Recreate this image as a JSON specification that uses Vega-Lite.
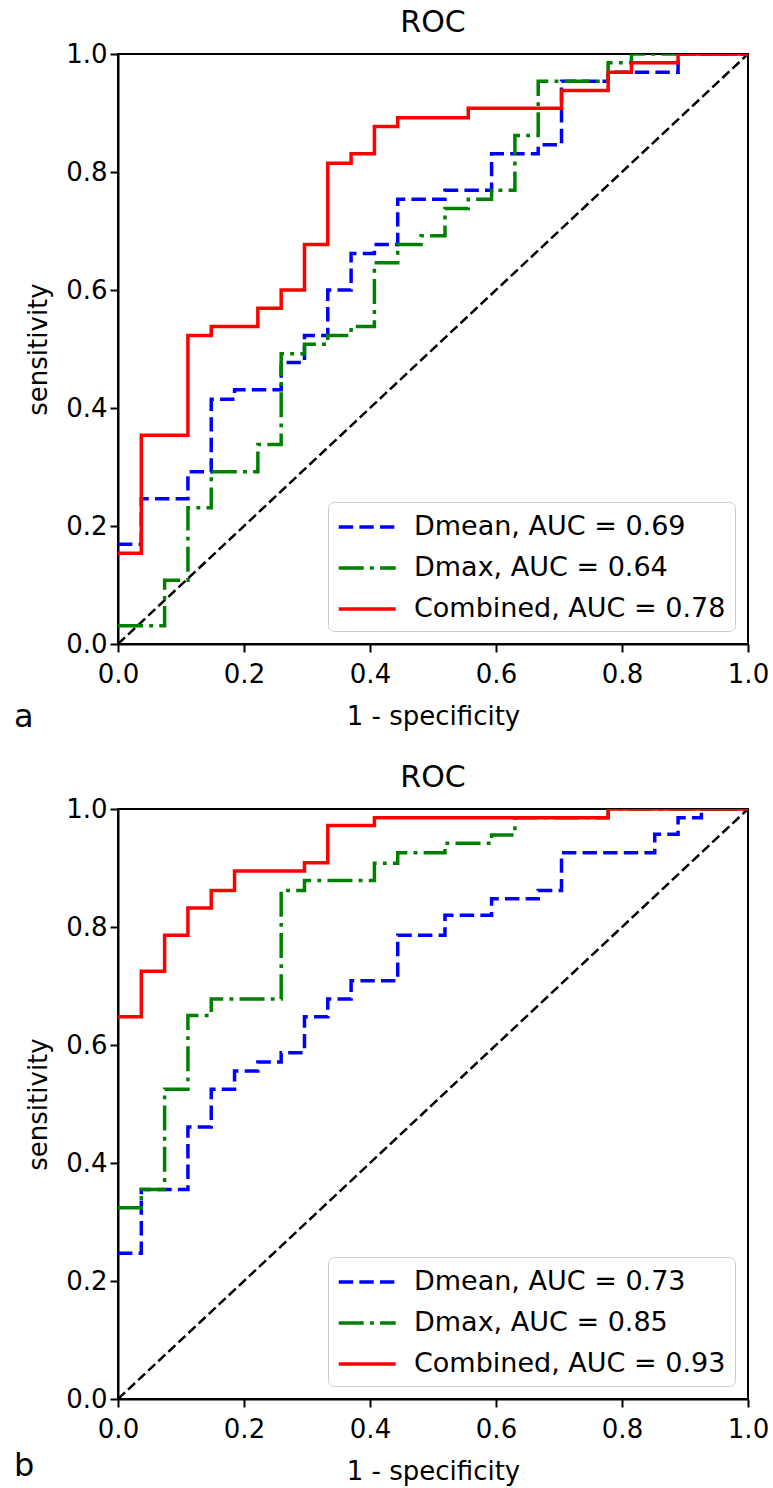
{
  "$schema": "https://vega.github.io/schema/vega-lite/v6.json",
  "background": "white",
  "padding": {"left": 13, "top": 7, "right": 10, "bottom": 5},
  "datasets": {
    "diag": [{"fpr": 0, "tpr": 0}, {"fpr": 1, "tpr": 1}],
    "rocA": [
      {"series": "Dmean, AUC = 0.69", "i": 1, "fpr": 0, "tpr": 0.169},
      {"series": "Dmean, AUC = 0.69", "i": 2, "fpr": 0.037, "tpr": 0.246},
      {"series": "Dmean, AUC = 0.69", "i": 3, "fpr": 0.111, "tpr": 0.292},
      {"series": "Dmean, AUC = 0.69", "i": 4, "fpr": 0.148, "tpr": 0.415},
      {"series": "Dmean, AUC = 0.69", "i": 5, "fpr": 0.185, "tpr": 0.431},
      {"series": "Dmean, AUC = 0.69", "i": 6, "fpr": 0.259, "tpr": 0.477},
      {"series": "Dmean, AUC = 0.69", "i": 7, "fpr": 0.296, "tpr": 0.523},
      {"series": "Dmean, AUC = 0.69", "i": 8, "fpr": 0.333, "tpr": 0.6},
      {"series": "Dmean, AUC = 0.69", "i": 9, "fpr": 0.37, "tpr": 0.662},
      {"series": "Dmean, AUC = 0.69", "i": 10, "fpr": 0.407, "tpr": 0.677},
      {"series": "Dmean, AUC = 0.69", "i": 11, "fpr": 0.444, "tpr": 0.754},
      {"series": "Dmean, AUC = 0.69", "i": 12, "fpr": 0.519, "tpr": 0.769},
      {"series": "Dmean, AUC = 0.69", "i": 13, "fpr": 0.593, "tpr": 0.831},
      {"series": "Dmean, AUC = 0.69", "i": 14, "fpr": 0.667, "tpr": 0.846},
      {"series": "Dmean, AUC = 0.69", "i": 15, "fpr": 0.704, "tpr": 0.954},
      {"series": "Dmean, AUC = 0.69", "i": 16, "fpr": 0.778, "tpr": 0.969},
      {"series": "Dmean, AUC = 0.69", "i": 17, "fpr": 0.889, "tpr": 1.0},
      {"series": "Dmean, AUC = 0.69", "i": 18, "fpr": 1.0, "tpr": 1.0},
      {"series": "Dmax, AUC = 0.64", "i": 1, "fpr": 0, "tpr": 0.031},
      {"series": "Dmax, AUC = 0.64", "i": 2, "fpr": 0.074, "tpr": 0.108},
      {"series": "Dmax, AUC = 0.64", "i": 3, "fpr": 0.111, "tpr": 0.231},
      {"series": "Dmax, AUC = 0.64", "i": 4, "fpr": 0.148, "tpr": 0.292},
      {"series": "Dmax, AUC = 0.64", "i": 5, "fpr": 0.222, "tpr": 0.338},
      {"series": "Dmax, AUC = 0.64", "i": 6, "fpr": 0.259, "tpr": 0.492},
      {"series": "Dmax, AUC = 0.64", "i": 7, "fpr": 0.296, "tpr": 0.508},
      {"series": "Dmax, AUC = 0.64", "i": 8, "fpr": 0.333, "tpr": 0.523},
      {"series": "Dmax, AUC = 0.64", "i": 9, "fpr": 0.37, "tpr": 0.538},
      {"series": "Dmax, AUC = 0.64", "i": 10, "fpr": 0.407, "tpr": 0.646},
      {"series": "Dmax, AUC = 0.64", "i": 11, "fpr": 0.444, "tpr": 0.677},
      {"series": "Dmax, AUC = 0.64", "i": 12, "fpr": 0.481, "tpr": 0.692},
      {"series": "Dmax, AUC = 0.64", "i": 13, "fpr": 0.519, "tpr": 0.738},
      {"series": "Dmax, AUC = 0.64", "i": 14, "fpr": 0.556, "tpr": 0.754},
      {"series": "Dmax, AUC = 0.64", "i": 15, "fpr": 0.593, "tpr": 0.769},
      {"series": "Dmax, AUC = 0.64", "i": 16, "fpr": 0.63, "tpr": 0.862},
      {"series": "Dmax, AUC = 0.64", "i": 17, "fpr": 0.667, "tpr": 0.954},
      {"series": "Dmax, AUC = 0.64", "i": 18, "fpr": 0.778, "tpr": 0.985},
      {"series": "Dmax, AUC = 0.64", "i": 19, "fpr": 0.815, "tpr": 1.0},
      {"series": "Dmax, AUC = 0.64", "i": 20, "fpr": 1.0, "tpr": 1.0},
      {"series": "Combined, AUC = 0.78", "i": 1, "fpr": 0, "tpr": 0.154},
      {"series": "Combined, AUC = 0.78", "i": 2, "fpr": 0.037, "tpr": 0.354},
      {"series": "Combined, AUC = 0.78", "i": 3, "fpr": 0.111, "tpr": 0.523},
      {"series": "Combined, AUC = 0.78", "i": 4, "fpr": 0.148, "tpr": 0.538},
      {"series": "Combined, AUC = 0.78", "i": 5, "fpr": 0.222, "tpr": 0.569},
      {"series": "Combined, AUC = 0.78", "i": 6, "fpr": 0.259, "tpr": 0.6},
      {"series": "Combined, AUC = 0.78", "i": 7, "fpr": 0.296, "tpr": 0.677},
      {"series": "Combined, AUC = 0.78", "i": 8, "fpr": 0.333, "tpr": 0.815},
      {"series": "Combined, AUC = 0.78", "i": 9, "fpr": 0.37, "tpr": 0.831},
      {"series": "Combined, AUC = 0.78", "i": 10, "fpr": 0.407, "tpr": 0.877},
      {"series": "Combined, AUC = 0.78", "i": 11, "fpr": 0.444, "tpr": 0.892},
      {"series": "Combined, AUC = 0.78", "i": 12, "fpr": 0.556, "tpr": 0.908},
      {"series": "Combined, AUC = 0.78", "i": 13, "fpr": 0.704, "tpr": 0.938},
      {"series": "Combined, AUC = 0.78", "i": 14, "fpr": 0.778, "tpr": 0.969},
      {"series": "Combined, AUC = 0.78", "i": 15, "fpr": 0.815, "tpr": 0.985},
      {"series": "Combined, AUC = 0.78", "i": 16, "fpr": 0.889, "tpr": 1.0},
      {"series": "Combined, AUC = 0.78", "i": 17, "fpr": 1.0, "tpr": 1.0}
    ],
    "rocB": [
      {"series": "Dmean, AUC = 0.73", "i": 1, "fpr": 0, "tpr": 0.247},
      {"series": "Dmean, AUC = 0.73", "i": 2, "fpr": 0.037, "tpr": 0.355},
      {"series": "Dmean, AUC = 0.73", "i": 3, "fpr": 0.111, "tpr": 0.461},
      {"series": "Dmean, AUC = 0.73", "i": 4, "fpr": 0.148, "tpr": 0.525},
      {"series": "Dmean, AUC = 0.73", "i": 5, "fpr": 0.185, "tpr": 0.556},
      {"series": "Dmean, AUC = 0.73", "i": 6, "fpr": 0.222, "tpr": 0.571},
      {"series": "Dmean, AUC = 0.73", "i": 7, "fpr": 0.259, "tpr": 0.587},
      {"series": "Dmean, AUC = 0.73", "i": 8, "fpr": 0.296, "tpr": 0.648},
      {"series": "Dmean, AUC = 0.73", "i": 9, "fpr": 0.333, "tpr": 0.678},
      {"series": "Dmean, AUC = 0.73", "i": 10, "fpr": 0.37, "tpr": 0.709},
      {"series": "Dmean, AUC = 0.73", "i": 11, "fpr": 0.444, "tpr": 0.786},
      {"series": "Dmean, AUC = 0.73", "i": 12, "fpr": 0.519, "tpr": 0.82},
      {"series": "Dmean, AUC = 0.73", "i": 13, "fpr": 0.593, "tpr": 0.848},
      {"series": "Dmean, AUC = 0.73", "i": 14, "fpr": 0.667, "tpr": 0.862},
      {"series": "Dmean, AUC = 0.73", "i": 15, "fpr": 0.704, "tpr": 0.926},
      {"series": "Dmean, AUC = 0.73", "i": 16, "fpr": 0.852, "tpr": 0.957},
      {"series": "Dmean, AUC = 0.73", "i": 17, "fpr": 0.889, "tpr": 0.985},
      {"series": "Dmean, AUC = 0.73", "i": 18, "fpr": 0.926, "tpr": 1.0},
      {"series": "Dmean, AUC = 0.73", "i": 19, "fpr": 1.0, "tpr": 1.0},
      {"series": "Dmax, AUC = 0.85", "i": 1, "fpr": 0, "tpr": 0.324},
      {"series": "Dmax, AUC = 0.85", "i": 2, "fpr": 0.037, "tpr": 0.355},
      {"series": "Dmax, AUC = 0.85", "i": 3, "fpr": 0.074, "tpr": 0.525},
      {"series": "Dmax, AUC = 0.85", "i": 4, "fpr": 0.111, "tpr": 0.65},
      {"series": "Dmax, AUC = 0.85", "i": 5, "fpr": 0.148, "tpr": 0.678},
      {"series": "Dmax, AUC = 0.85", "i": 6, "fpr": 0.259, "tpr": 0.862},
      {"series": "Dmax, AUC = 0.85", "i": 7, "fpr": 0.296, "tpr": 0.879},
      {"series": "Dmax, AUC = 0.85", "i": 8, "fpr": 0.407, "tpr": 0.908},
      {"series": "Dmax, AUC = 0.85", "i": 9, "fpr": 0.444, "tpr": 0.926},
      {"series": "Dmax, AUC = 0.85", "i": 10, "fpr": 0.519, "tpr": 0.942},
      {"series": "Dmax, AUC = 0.85", "i": 11, "fpr": 0.593, "tpr": 0.956},
      {"series": "Dmax, AUC = 0.85", "i": 12, "fpr": 0.63, "tpr": 0.985},
      {"series": "Dmax, AUC = 0.85", "i": 13, "fpr": 0.778, "tpr": 1.0},
      {"series": "Dmax, AUC = 0.85", "i": 14, "fpr": 1.0, "tpr": 1.0},
      {"series": "Combined, AUC = 0.93", "i": 1, "fpr": 0, "tpr": 0.648},
      {"series": "Combined, AUC = 0.93", "i": 2, "fpr": 0.037, "tpr": 0.725},
      {"series": "Combined, AUC = 0.93", "i": 3, "fpr": 0.074, "tpr": 0.786},
      {"series": "Combined, AUC = 0.93", "i": 4, "fpr": 0.111, "tpr": 0.832},
      {"series": "Combined, AUC = 0.93", "i": 5, "fpr": 0.148, "tpr": 0.862},
      {"series": "Combined, AUC = 0.93", "i": 6, "fpr": 0.185, "tpr": 0.895},
      {"series": "Combined, AUC = 0.93", "i": 7, "fpr": 0.296, "tpr": 0.909},
      {"series": "Combined, AUC = 0.93", "i": 8, "fpr": 0.333, "tpr": 0.972},
      {"series": "Combined, AUC = 0.93", "i": 9, "fpr": 0.407, "tpr": 0.985},
      {"series": "Combined, AUC = 0.93", "i": 10, "fpr": 0.778, "tpr": 1.0},
      {"series": "Combined, AUC = 0.93", "i": 11, "fpr": 1.0, "tpr": 1.0}
    ]
  },
  "spacing": 165,
  "bounds": "flush",
  "resolve": {"scale": {"color": "independent", "strokeDash": "independent"}},
  "vconcat": [
    {
      "width": 630,
      "height": 590,
      "title": "ROC",
      "layer": [
        {
          "data": {"name": "diag"},
          "mark": {"type": "line", "color": "black", "strokeWidth": 2.5, "strokeDash": [9.6, 4.2], "clip": false},
          "encoding": {
            "x": {"field": "fpr", "type": "quantitative", "scale": {"domain": [0, 1], "nice": false}, "axis": {"title": "1 - specificity", "values": [0, 0.2, 0.4, 0.6, 0.8, 1.0], "format": ".1f", "labelPadding": 9, "titlePadding": 16}},
            "y": {"field": "tpr", "type": "quantitative", "scale": {"domain": [0, 1], "nice": false}, "axis": {"title": "sensitivity", "values": [0, 0.2, 0.4, 0.6, 0.8, 1.0], "format": ".1f", "labelPadding": 3, "titlePadding": 14}}
          }
        },
        {
          "data": {"name": "rocA"},
          "mark": {"type": "line", "interpolate": "step-after", "strokeWidth": 3.5, "clip": true},
          "encoding": {
            "x": {"field": "fpr", "type": "quantitative", "scale": {"domain": [0, 1], "nice": false}, "axis": {"title": "1 - specificity", "values": [0, 0.2, 0.4, 0.6, 0.8, 1.0], "format": ".1f", "labelPadding": 9, "titlePadding": 16}},
            "y": {"field": "tpr", "type": "quantitative", "scale": {"domain": [0, 1], "nice": false}, "axis": {"title": "sensitivity", "values": [0, 0.2, 0.4, 0.6, 0.8, 1.0], "format": ".1f", "labelPadding": 3, "titlePadding": 14}},
            "order": {"field": "i", "type": "quantitative"},
            "color": {"field": "series", "type": "nominal", "sort": null,
              "scale": {"domain": ["Dmean, AUC = 0.69", "Dmax, AUC = 0.64", "Combined, AUC = 0.78"], "range": ["#0000ff", "#008000", "#ff0000"]},
              "legend": {"title": null}},
            "strokeDash": {"field": "series", "type": "nominal", "sort": null,
              "scale": {"domain": ["Dmean, AUC = 0.69", "Dmax, AUC = 0.64", "Combined, AUC = 0.78"], "range": [[14.4, 6.2], [25, 6.2, 3.9, 6.2], [1, 0]]},
              "legend": {"title": null}}
          }
        },
        {
          "data": {"values": [{"label": "a"}]},
          "mark": {"type": "text", "fontSize": 32, "align": "left", "baseline": "alphabetic", "color": "black", "font": "DejaVu Sans"},
          "encoding": {
            "x": {"datum": -0.165, "type": "quantitative"},
            "y": {"datum": -0.14, "type": "quantitative"},
            "text": {"field": "label"}
          }
        }
      ]
    },
    {
      "width": 630,
      "height": 590,
      "title": "ROC",
      "layer": [
        {
          "data": {"name": "diag"},
          "mark": {"type": "line", "color": "black", "strokeWidth": 2.5, "strokeDash": [9.6, 4.2], "clip": false},
          "encoding": {
            "x": {"field": "fpr", "type": "quantitative", "scale": {"domain": [0, 1], "nice": false}, "axis": {"title": "1 - specificity", "values": [0, 0.2, 0.4, 0.6, 0.8, 1.0], "format": ".1f", "labelPadding": 9, "titlePadding": 16}},
            "y": {"field": "tpr", "type": "quantitative", "scale": {"domain": [0, 1], "nice": false}, "axis": {"title": "sensitivity", "values": [0, 0.2, 0.4, 0.6, 0.8, 1.0], "format": ".1f", "labelPadding": 3, "titlePadding": 14}}
          }
        },
        {
          "data": {"name": "rocB"},
          "mark": {"type": "line", "interpolate": "step-after", "strokeWidth": 3.5, "clip": true},
          "encoding": {
            "x": {"field": "fpr", "type": "quantitative", "scale": {"domain": [0, 1], "nice": false}, "axis": {"title": "1 - specificity", "values": [0, 0.2, 0.4, 0.6, 0.8, 1.0], "format": ".1f", "labelPadding": 9, "titlePadding": 16}},
            "y": {"field": "tpr", "type": "quantitative", "scale": {"domain": [0, 1], "nice": false}, "axis": {"title": "sensitivity", "values": [0, 0.2, 0.4, 0.6, 0.8, 1.0], "format": ".1f", "labelPadding": 3, "titlePadding": 14}},
            "order": {"field": "i", "type": "quantitative"},
            "color": {"field": "series", "type": "nominal", "sort": null,
              "scale": {"domain": ["Dmean, AUC = 0.73", "Dmax, AUC = 0.85", "Combined, AUC = 0.93"], "range": ["#0000ff", "#008000", "#ff0000"]},
              "legend": {"title": null}},
            "strokeDash": {"field": "series", "type": "nominal", "sort": null,
              "scale": {"domain": ["Dmean, AUC = 0.73", "Dmax, AUC = 0.85", "Combined, AUC = 0.93"], "range": [[14.4, 6.2], [25, 6.2, 3.9, 6.2], [1, 0]]},
              "legend": {"title": null}}
          }
        },
        {
          "data": {"values": [{"label": "b"}]},
          "mark": {"type": "text", "fontSize": 32, "align": "left", "baseline": "alphabetic", "color": "black", "font": "DejaVu Sans"},
          "encoding": {
            "x": {"datum": -0.165, "type": "quantitative"},
            "y": {"datum": -0.13, "type": "quantitative"},
            "text": {"field": "label"}
          }
        }
      ]
    }
  ],
  "config": {
    "font": "DejaVu Sans",
    "view": {"stroke": "black", "strokeWidth": 2},
    "title": {"fontSize": 30, "fontWeight": "normal", "color": "black", "offset": 3, "font": "DejaVu Sans"},
    "axis": {
      "grid": false,
      "labelFont": "DejaVu Sans",
      "titleFont": "DejaVu Sans",
      "labelFontSize": 26,
      "titleFontSize": 26,
      "titleFontWeight": "normal",
      "labelColor": "black",
      "titleColor": "black",
      "tickColor": "black",
      "domainColor": "black",
      "tickSize": 8,
      "tickWidth": 2,
      "domainWidth": 2,
      "labelFlush": false,
      "labelOverlap": false,
      "zindex": 1
    },
    "legend": {
      "orient": "bottom-right",
      "offset": 13,
      "fillColor": "white",
      "strokeColor": "#cccccc",
      "cornerRadius": 6,
      "padding": 9,
      "labelFont": "DejaVu Sans",
      "labelFontSize": 27,
      "labelColor": "black",
      "labelLimit": 600,
      "labelOffset": 45,
      "symbolType": "M-1,0H3",
      "symbolSize": 812,
      "symbolStrokeWidth": 3.5,
      "symbolOpacity": 1,
      "rowPadding": 12
    }
  }
}
